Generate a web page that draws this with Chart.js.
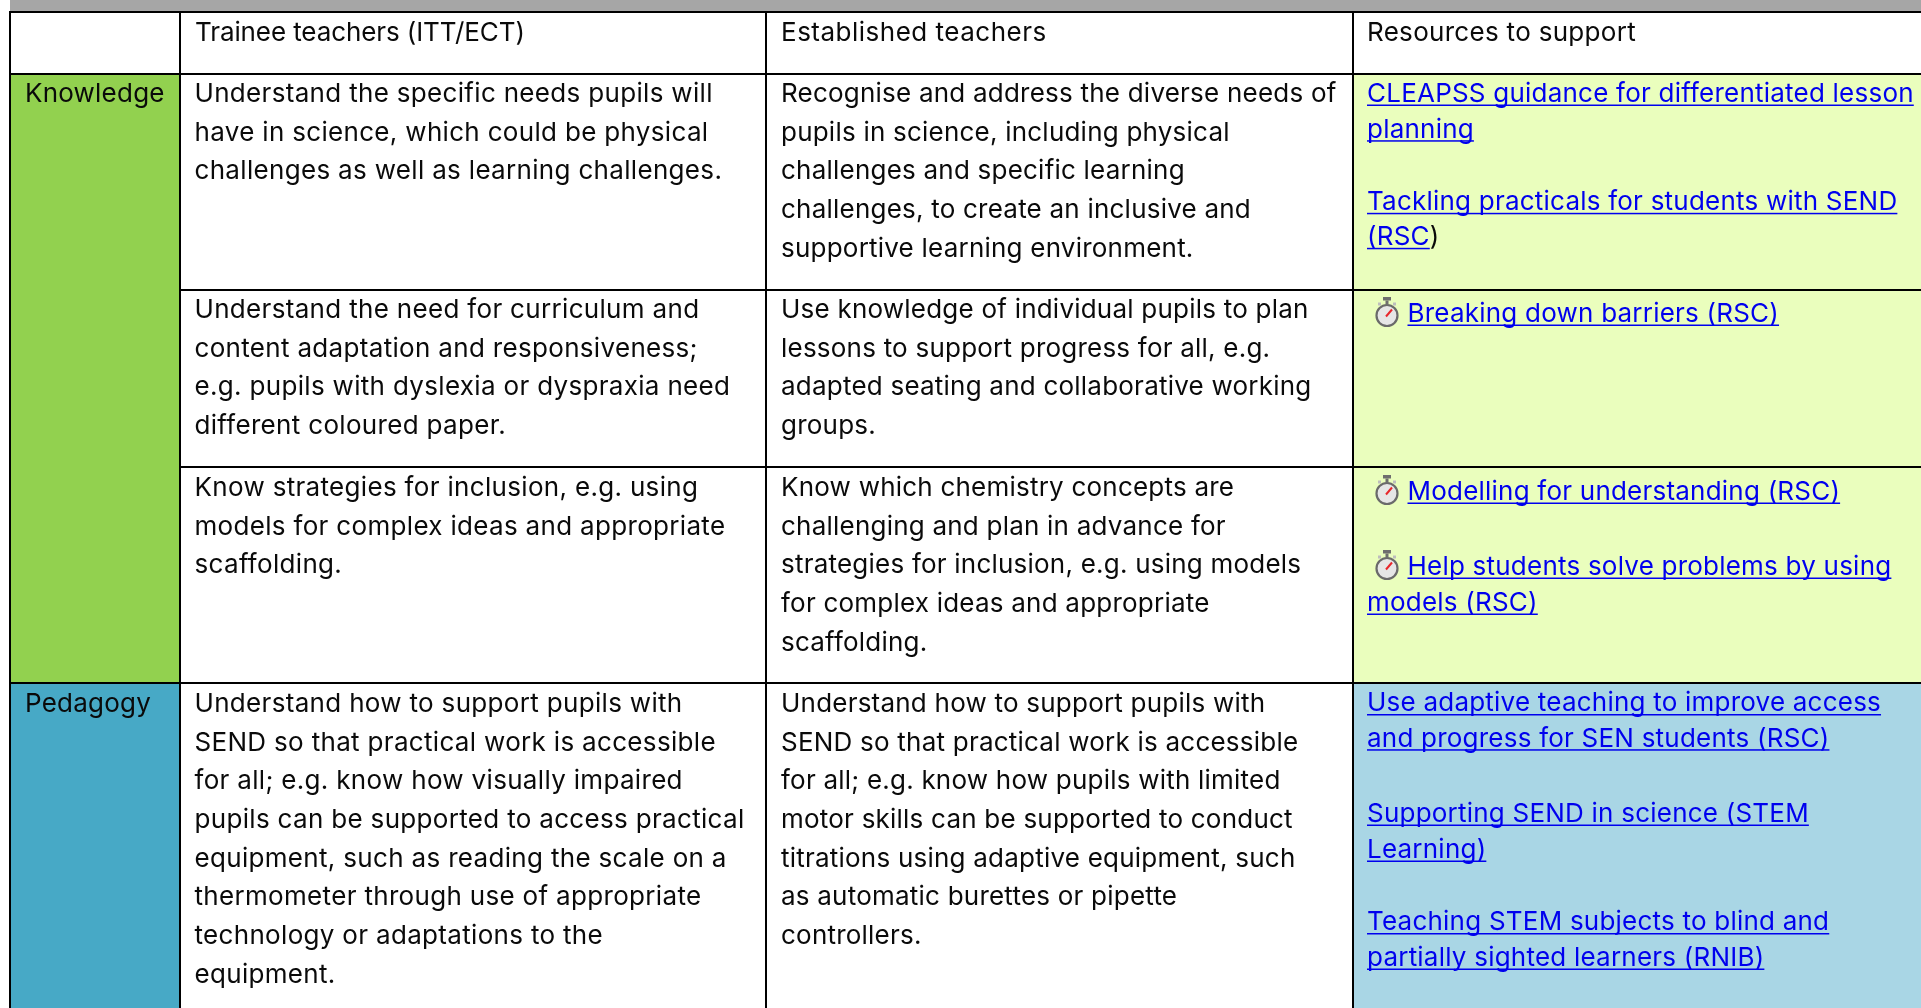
<!DOCTYPE html>
<html><head><meta charset="utf-8">
<style>html,body{margin:0;padding:0;background:#fff}canvas{display:block}</style>
<script src="https://cdn.jsdelivr.net/npm/chart.js@4"></script>
</head><body><canvas id="c" width="1921" height="1008"></canvas>
<script>
const colEdges=[10,180,766,1353,1921];
const rowEdges=[0,12,74,290,467,683,1008];
const headers=["Trainee teachers (ITT/ECT)","Established teachers","Resources to support"];
const stages=["Knowledge","Pedagogy"];
const traineeCells=[
["Understand the specific needs pupils will","have in science, which could be physical","challenges as well as learning challenges."],
["Understand the need for curriculum and","content adaptation and responsiveness;","e.g. pupils with dyslexia or dyspraxia need","different coloured paper."],
["Know strategies for inclusion, e.g. using","models for complex ideas and appropriate","scaffolding."],
["Understand how to support pupils with","SEND so that practical work is accessible","for all; e.g. know how visually impaired","pupils can be supported to access practical","equipment, such as reading the scale on a","thermometer through use of appropriate","technology or adaptations to the","equipment."]];
const establishedCells=[
["Recognise and address the diverse needs of","pupils in science, including physical","challenges and specific learning","challenges, to create an inclusive and","supportive learning environment."],
["Use knowledge of individual pupils to plan","lessons to support progress for all, e.g.","adapted seating and collaborative working","groups."],
["Know which chemistry concepts are","challenging and plan in advance for","strategies for inclusion, e.g. using models","for complex ideas and appropriate","scaffolding."],
["Understand how to support pupils with","SEND so that practical work is accessible","for all; e.g. know how pupils with limited","motor skills can be supported to conduct","titrations using adaptive equipment, such","as automatic burettes or pipette","controllers."]];
const resourceLines=[
["CLEAPSS guidance for differentiated lesson",101,0],["planning",136.7,0],
["Tackling practicals for students with SEND",209.3,0],["(RSC",244.3,0],
["Breaking down barriers (RSC)",321,1],
["Modelling for understanding (RSC)",499,1],
["Help students solve problems by using",574,1],["models (RSC)",610,0],
["Use adaptive teaching to improve access",710.5,0],["and progress for SEN students (RSC)",745.7,0],
["Supporting SEND in science (STEM",821,0],["Learning)",857,0],
["Teaching STEM subjects to blind and",929.5,0],["partially sighted learners (RNIB)",965,0]];
const FONT='26px Inter';
const TRACK='0.22px';
const TRAINEE_TRACK='0.32px';
const HEADER_TRACK=['-0.1px','0.5px','0.3px'];
const TEXT_DY=0.8;
const cells=[
 [0,4,0,1,'#A6A6A6'],
 [0,1,1,2,'#FFFFFF'],[1,2,1,5,'#FFFFFF'],[2,3,1,6,'#FFFFFF'],[3,4,1,2,'#FFFFFF'],[1,2,5,6,'#FFFFFF'],
 [0,1,2,5,'#92D14F'],[0,1,5,6,'#47A9C6'],
 [3,4,2,5,'#EAFEBD'],[3,4,5,6,'#A9D6E5']];
const hRules=[[0,4,1],[0,4,2],[1,4,3],[1,4,4],[0,4,5]];
const vRules=[[0,1,6],[1,1,6],[2,1,6],[3,1,6]];
const ds=[];
hRules.forEach(([a,b,r])=>ds.push({type:'line',order:1,data:[{x:colEdges[a]-1,y:rowEdges[r]},{x:colEdges[b],y:rowEdges[r]}],borderColor:'#000',borderWidth:2,pointRadius:0,fill:false}));
vRules.forEach(([c,r0,r1])=>ds.push({type:'line',order:1,data:[{x:colEdges[c],y:rowEdges[r0]},{x:colEdges[c],y:rowEdges[r1]}],borderColor:'#000',borderWidth:2,pointRadius:0,fill:false}));
cells.forEach(([a,b,r,s,col])=>{
 ds.push({type:'line',order:2,data:[{x:colEdges[a],y:rowEdges[r]},{x:colEdges[b],y:rowEdges[r]}],fill:{value:rowEdges[s]},backgroundColor:col,borderWidth:0,pointRadius:0,tension:0});
});
function stopwatch(ctx,cx,cy){
 ctx.save();
 ctx.fillStyle='#6e6e6e';ctx.fillRect(cx-4,cy-18.5,8,3.5);ctx.fillRect(cx-1.5,cy-15,3,4);
 ctx.fillStyle='#bdbdbd';ctx.fillRect(cx+6,cy-13,3,3);ctx.fillRect(cx-9,cy-13,3,3);
 ctx.beginPath();ctx.arc(cx,cy,10.5,0,7);ctx.fillStyle='#e6e6e6';ctx.fill();ctx.lineWidth=2.2;ctx.strokeStyle='#6a6a6a';ctx.stroke();
 ctx.beginPath();ctx.moveTo(cx-1,cy+1);ctx.lineTo(cx+5,cy-6);ctx.lineWidth=2;ctx.strokeStyle='#e8262a';ctx.stroke();
 ctx.restore();
}
const tablePlugin={id:'tableText',afterDatasetsDraw(chart){
 const ctx=chart.ctx,X=v=>chart.scales.x.getPixelForValue(v),Y=v=>chart.scales.y.getPixelForValue(v);
 ctx.save();ctx.textBaseline='alphabetic';ctx.textAlign='left';ctx.font=FONT;ctx.letterSpacing=TRACK;ctx.fillStyle='#0a0a0a';
 const step=38.7;
 const put=(t,x,y)=>ctx.fillText(t,X(x),Y(y+TEXT_DY));
 headers.forEach((h,i)=>{ctx.letterSpacing=HEADER_TRACK[i];put(h,colEdges[i+1]+(i==2?14:15),40);});
 ctx.letterSpacing=TRACK;
 put(stages[0],25,101);put(stages[1],25,711);
 const starts=[101,317,495,711];
 ctx.letterSpacing=TRAINEE_TRACK;
 traineeCells.forEach((c,i)=>c.forEach((l,j)=>put(l,194.5,starts[i]+j*step)));
 ctx.letterSpacing=TRACK;
 establishedCells.forEach((c,i)=>c.forEach((l,j)=>put(l,781,starts[i]+j*step)));
 resourceLines.forEach(([t,y,icon])=>{
  const x=icon?1407.5:1367;
  ctx.fillStyle='#0000EE';put(t,x,y);
  const w=ctx.measureText(t).width;
  ctx.fillRect(X(x),Y(y)+3.5,w,1.5);
  if(icon)stopwatch(ctx,X(1387),Y(y)-5.5);
  if(t==='(RSC'){ctx.fillStyle='#0a0a0a';put(')',x+w,y);}
  ctx.fillStyle='#0a0a0a';
 });
 ctx.restore();
}};
new Chart(document.getElementById('c'),{type:'line',data:{datasets:ds},plugins:[tablePlugin],options:{
 responsive:false,animation:false,parsing:false,normalized:true,
 layout:{padding:0},
 plugins:{legend:{display:false},tooltip:{enabled:false},title:{display:false}},
 scales:{x:{type:'linear',min:0,max:1921,display:false},y:{type:'linear',min:0,max:1008,reverse:true,display:false}}
}});
</script></body></html>
